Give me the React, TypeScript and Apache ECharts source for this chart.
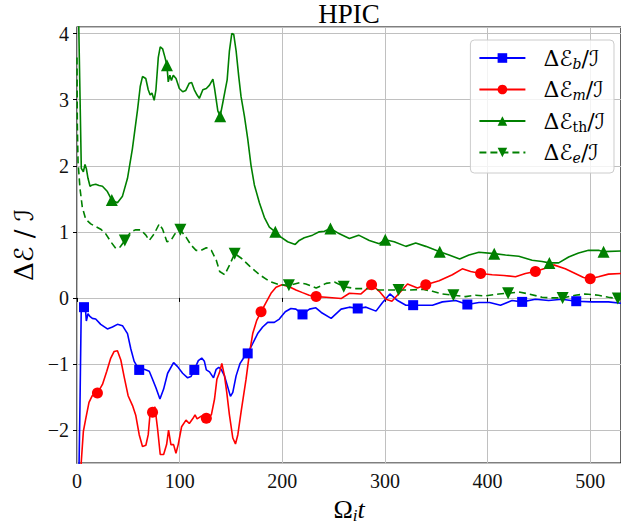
import React, { useEffect, useRef } from 'react';
import * as echarts from 'echarts';

const titleText = 'HPIC';
const xTickValues = [0, 100, 200, 300, 400, 500];

// ΔE_b / I  (blue, squares)
const curveB: number[][] = [
  [1.0, -3.5], [2.9, -1.63], [4.2, -0.09], [6.8, -0.14], [8, -0.12], [9.1, -0.35], [10.7, -0.24], [12.5, -0.28],
  [15, -0.31], [18.2, -0.32], [23.1, -0.4], [29.6, -0.47], [34.5, -0.44], [39.4, -0.4], [44.3, -0.42], [49.2, -0.54],
  [52.4, -0.77], [55.7, -0.96], [60.6, -1.09], [65.5, -1.08], [70.4, -1.11], [73.6, -1.23], [76.9, -1.36], [80.8, -1.53],
  [84.4, -1.38], [88.3, -1.14], [94.1, -0.98], [98, -1.04], [102.9, -1.14], [107.8, -1.21], [111, -1.19], [114.3, -1.09],
  [118.2, -0.95], [121.5, -0.91], [124.1, -0.96], [126, -1.09], [129.1, -1.12], [133, -1.21], [135.6, -1.08], [138.1, -1.05],
  [140.5, -1.08], [143.7, -1.18], [146.9, -1.35], [149.5, -1.49], [151.8, -1.43], [155, -1.18], [158.9, -0.99], [163.1, -0.89],
  [166.3, -0.84], [171.2, -0.69], [176, -0.54], [180.9, -0.44], [185.8, -0.37], [192.2, -0.37], [197.1, -0.32], [202.9, -0.21],
  [208.4, -0.16], [213.3, -0.17], [219.7, -0.25], [226.5, -0.17], [232.7, -0.15], [238, -0.22], [247.6, -0.31], [257.3, -0.17],
  [265.4, -0.14], [273.5, -0.16], [281.6, -0.14], [291.3, -0.2], [297.7, -0.07], [304.9, 0.06], [312.3, -0.04], [320.4, -0.11],
  [327.5, -0.11], [336.6, -0.11], [346.3, -0.11], [356, -0.06], [368.9, -0.04], [380.3, -0.1], [391.6, -0.07], [402, -0.07],
  [412.6, -0.11], [423.9, -0.04], [433.7, -0.06], [446.6, -0.02], [459.5, -0.04], [472.5, -0.02], [486.4, -0.05], [501.6, -0.06],
  [517.8, -0.06], [530, -0.08],
];
const marksB = [6.8, 60.6, 114.3, 166.3, 219.7, 273.5, 327.5, 380.3, 433.7, 486.4];

// ΔE_m / I  (red, circles)
const curveM: number[][] = [
  [3.2, -3.5], [3.9, -2.54], [6.2, -2.02], [8.5, -1.83], [11.7, -1.58], [14.9, -1.48], [19.9, -1.44], [24.8, -1.31],
  [29, -1.11], [32.9, -0.91], [36.2, -0.81], [39.4, -0.8], [42.7, -0.94], [45.9, -1.19], [49.8, -1.48], [54.1, -1.63],
  [57.3, -1.78], [60.6, -2.07], [63.8, -2.25], [67.1, -2.23], [69.4, -2.07], [71.3, -1.73], [73.6, -1.73], [75.9, -1.65],
  [78.5, -1.98], [81.1, -2.37], [84.4, -2.37], [87.3, -2.22], [89.2, -2.0], [91.5, -2.22], [94.1, -2.22], [96.4, -2.35],
  [98.6, -2.22], [101.9, -1.95], [106.2, -1.85], [109.4, -1.9], [112.7, -1.83], [115, -1.77], [117, -1.83], [120, -1.8],
  [123, -1.78], [126, -1.82], [130.9, -1.77], [134, -1.53], [136.3, -1.23], [138.8, -1.13], [141.1, -0.99], [143.7, -1.18],
  [145.9, -1.43], [148.5, -1.77], [151.8, -2.12], [154.4, -2.21], [156.7, -2.07], [159.9, -1.72], [164.7, -1.23], [168, -0.84],
  [171.2, -0.54], [175.1, -0.34], [179.3, -0.21], [184.1, -0.07], [189, 0.07], [193.9, 0.16], [199.7, 0.2], [206.8, 0.17],
  [213.3, 0.12], [219.7, 0.08], [226.2, 0.04], [233, 0.02], [242.7, 0.01], [257.3, -0.01], [265.4, 0.07], [276.7, 0.06],
  [287, 0.2], [294.5, 0.1], [301, -0.02], [306.8, -0.05], [313.9, 0.07], [322, 0.21], [331.7, 0.15], [339.8, 0.2],
  [352.8, 0.26], [365.7, 0.35], [375.4, 0.44], [383.5, 0.4], [393.2, 0.37], [404.5, 0.35], [415.9, 0.34], [427.2, 0.32],
  [436.9, 0.37], [446.6, 0.4], [456.3, 0.45], [464.4, 0.5], [475.7, 0.44], [485.4, 0.37], [493.5, 0.31], [500, 0.29],
  [508.1, 0.32], [517.8, 0.36], [530, 0.37],
];
const marksM = [19.9, 73.6, 126, 179.3, 233, 287, 339.8, 393.2, 446.6, 500];

// ΔE_th / I  (green, up triangles)
const curveTh: number[][] = [
  [0.5, 5.0], [1.5, 4.3], [3, 3.0], [4.2, 1.96], [6.2, 1.91], [7.8, 2.02], [9.2, 1.95], [10.7, 1.81],
  [12.7, 1.69], [15, 1.71], [18.2, 1.72], [21.5, 1.7], [24.8, 1.69], [29.6, 1.61], [33.9, 1.48], [39.4, 1.44],
  [44.3, 1.54], [49.2, 1.81], [54, 2.26], [59, 2.85], [61.6, 3.2], [63.8, 3.35], [67, 3.32], [69.4, 3.15],
  [71.3, 3.07], [73, 3.1], [75.2, 2.99], [76.9, 3.15], [79.2, 3.64], [81.1, 3.8], [83.4, 3.77], [85.7, 3.64],
  [87.6, 3.52], [88.9, 3.27], [90.5, 3.37], [92, 3.29], [93.8, 3.37], [96.5, 3.32], [99.7, 3.17], [103, 3.12],
  [106, 3.14], [109.4, 3.25], [111.7, 3.26], [114.3, 3.15], [117, 3.07], [119.2, 3.02], [122.6, 3.15], [126, 3.17],
  [129.1, 3.22], [132.4, 3.31], [134, 3.17], [137.2, 2.83], [139.5, 2.75], [142, 2.95], [144.7, 3.17], [146.3, 3.3],
  [148.5, 3.74], [150.8, 4.0], [152.7, 3.99], [155, 3.74], [157.6, 3.35], [159.8, 3.05], [163.1, 2.75], [166.3, 2.41],
  [169.5, 2.01], [172.8, 1.71], [177.7, 1.44], [182.5, 1.22], [187.4, 1.07], [193.2, 1.0], [198.7, 0.92], [205.2, 0.85],
  [212.6, 0.81], [216.5, 0.87], [221.4, 0.91], [229.5, 0.95], [236, 1.0], [241, 1.01], [246.9, 1.05], [255.7, 0.97],
  [265.4, 0.9], [274.4, 0.95], [284.8, 0.87], [294.5, 0.82], [300.3, 0.88], [309, 0.85], [320.4, 0.78], [330, 0.83],
  [339.8, 0.78], [353.4, 0.7], [362.5, 0.65], [372.8, 0.59], [381.9, 0.65], [391.6, 0.69], [406.5, 0.67], [417.5, 0.65],
  [430.4, 0.63], [443.4, 0.57], [453.1, 0.55], [460.2, 0.53], [469.3, 0.53], [479, 0.62], [488.7, 0.68], [498.4, 0.72],
  [508.1, 0.72], [513, 0.7], [530, 0.71],
];
const marksTh = [33.9, 87.6, 139.5, 193.2, 246.9, 300.3, 353.4, 406.5, 460.2, 513];

// ΔE_e / I  (green dashed, down triangles)
const curveE: number[][] = [
  [0, 3.64], [0.3, 2.65], [1, 2.06], [2.9, 1.66], [5.2, 1.37], [8.5, 1.19], [13.4, 1.12], [18.2, 1.08],
  [23.1, 1.04], [28, 0.97], [32.9, 0.85], [37.8, 0.75], [42, 0.77], [46.6, 0.87], [52.4, 1.0], [57.3, 1.03],
  [62.2, 1.03], [67.1, 0.95], [70.4, 0.87], [75.2, 0.97], [80.1, 1.12], [83.4, 1.04], [87.6, 0.85], [91.5, 0.87],
  [95.4, 0.97], [100.7, 1.03], [106.2, 0.92], [111.1, 0.8], [116, 0.72], [121, 0.72], [126, 0.76], [130.9, 0.72],
  [135.7, 0.57], [139, 0.4], [143.9, 0.35], [148.7, 0.5], [153.6, 0.67], [160.1, 0.6], [168.2, 0.48], [177.9, 0.35],
  [187.6, 0.25], [197.3, 0.2], [206.4, 0.19], [216.7, 0.23], [223, 0.21], [233, 0.15], [242.7, 0.22], [250.8, 0.24],
  [259.9, 0.17], [271.8, 0.14], [284.8, 0.14], [294.5, 0.12], [313.3, 0.12], [323.6, 0.12], [336.6, 0.13], [346.3, 0.1],
  [356, 0.06], [366.7, 0.04], [378.6, 0.02], [388.3, 0.04], [398, 0.03], [411, 0.06], [420, 0.07], [430.4, 0.09],
  [440.1, 0.06], [453.1, 0.01], [462.8, 0.0], [473.1, 0.0], [485.4, 0.04], [495.1, 0.06], [508.1, 0.04], [517.8, 0.01],
  [526.9, -0.01], [530, -0.02],
];
const marksE = [46.6, 100.7, 153.6, 206.4, 259.9, 313.3, 366.7, 420, 473.1, 526.9];

const seriesNames = ['ΔE_b/I', 'ΔE_m/I', 'ΔE_th/I', 'ΔE_e/I'];
const legendSubs = ['b', 'm', 'th', 'e'];

const TRI_DOWN = 'path://M0,0 L10,0 L5,9 Z';

function buildItems(curve: number[][], marks: number[], symbol: string) {
  return curve.map(([x, y]) => ({
    value: [x, y],
    symbol: marks.indexOf(x) >= 0 ? symbol : 'none',
  }));
}

const SERIF = "'Liberation Serif', 'DejaVu Serif', serif";
const MATH = "'DejaVu Serif', 'DejaVu Sans', serif";

export default function App() {
  const ref = useRef<HTMLDivElement>(null);
  useEffect(() => {
    if (!ref.current) return;
    const chart = echarts.init(ref.current, undefined, { renderer: 'svg' });
    const lineBase = {
      type: 'line' as const,
      showSymbol: true,
      showAllSymbol: true,
      smooth: false,
      clip: true,
      emphasis: { disabled: true },
    };
    const option: any = {
      animation: false,
      title: {
        text: titleText,
        left: 349,
        textAlign: 'center',
        top: 0,
        padding: 0,
        textStyle: { fontFamily: SERIF, fontSize: 27, fontWeight: 'normal', color: '#000' },
      },
      grid: {
        left: 77,
        right: -1,
        top: 27,
        bottom: 57,
        show: true,
        borderColor: '#000',
        borderWidth: 1.2,
        backgroundColor: 'transparent',
      },
      legend: {
        orient: 'vertical',
        right: 7,
        top: 40,
        align: 'left',
        itemWidth: 46,
        itemHeight: 12,
        itemGap: 8,
        padding: [7, 9, 8, 8],
        backgroundColor: 'rgba(255,255,255,0.8)',
        borderColor: '#cccccc',
        borderWidth: 1,
        borderRadius: 4,
        data: seriesNames,
        formatter: (name: string) => {
          const i = seriesNames.indexOf(name);
          const sub = legendSubs[i];
          const subStyle = sub === 'th' ? 'su' : 'si';
          return `{a|Δℰ}{${subStyle}|${sub}}{c|/ℐ}`;
        },
        textStyle: {
          rich: {
            a: { fontFamily: MATH, fontSize: 22, color: '#000', padding: [0, 0, 0, 13], lineHeight: 25 },
            c: { fontFamily: MATH, fontSize: 22, color: '#000', lineHeight: 25 },
            si: { fontFamily: MATH, fontSize: 14, fontStyle: 'italic', color: '#000', verticalAlign: 'bottom', lineHeight: 14 },
            su: { fontFamily: MATH, fontSize: 14, color: '#000', verticalAlign: 'bottom', lineHeight: 14 },
          },
        },
      },
      xAxis: {
        type: 'value',
        min: 0,
        max: 530,
        interval: 100,
        name: '{o|Ω}{i|i}{t|t}',
        nameLocation: 'middle',
        nameGap: 27,
        nameTextStyle: {
          rich: {
            o: { fontFamily: SERIF, fontSize: 26, color: '#000', lineHeight: 30 },
            i: { fontFamily: SERIF, fontSize: 17, fontStyle: 'italic', color: '#000', verticalAlign: 'bottom', lineHeight: 17 },
            t: { fontFamily: SERIF, fontSize: 26, fontStyle: 'italic', color: '#000', lineHeight: 30 },
          },
        },
        axisLine: { show: false },
        axisTick: { show: true, length: 4, lineStyle: { color: '#000', width: 1 } },
        axisLabel: {
          margin: 8,
          fontFamily: SERIF,
          fontSize: 20,
          color: '#111',
          showMaxLabel: false,
          formatter: (v: number) => (xTickValues.indexOf(v) >= 0 ? String(v) : ''),
        },
        splitLine: { show: true, lineStyle: { color: '#c0c0c0', width: 1 } },
      },
      yAxis: {
        type: 'value',
        min: -2.5,
        max: 4.1,
        splitNumber: 5,
        name: 'Δℰ / ℐ',
        nameLocation: 'middle',
        nameGap: 31,
        nameTextStyle: { fontFamily: MATH, fontSize: 26, color: '#000' },
        axisLine: { show: false },
        axisTick: { show: true, length: 4, lineStyle: { color: '#000', width: 1 } },
        axisLabel: {
          margin: 8,
          fontFamily: SERIF,
          fontSize: 20,
          color: '#111',
          showMinLabel: false,
          showMaxLabel: false,
          formatter: (v: number) => (Number.isInteger(v) ? String(v).replace('-', '−') : ''),
        },
        splitLine: { show: true, lineStyle: { color: '#c0c0c0', width: 1 } },
      },
      series: [
        {
          ...lineBase,
          name: seriesNames[0],
          data: buildItems(curveB, marksB, 'rect'),
          symbol: 'rect',
          symbolSize: 10,
          lineStyle: { color: '#0000ff', width: 1.6 },
          itemStyle: { color: '#0000ff' },
        },
        {
          ...lineBase,
          name: seriesNames[1],
          data: buildItems(curveM, marksM, 'circle'),
          symbol: 'circle',
          symbolSize: 11,
          lineStyle: { color: '#ff0000', width: 1.6 },
          itemStyle: { color: '#ff0000' },
        },
        {
          ...lineBase,
          name: seriesNames[2],
          data: buildItems(curveTh, marksTh, 'triangle'),
          symbol: 'triangle',
          symbolSize: 12,
          lineStyle: { color: '#008000', width: 1.6 },
          itemStyle: { color: '#008000' },
        },
        {
          ...lineBase,
          name: seriesNames[3],
          data: buildItems(curveE, marksE, TRI_DOWN),
          symbol: TRI_DOWN,
          symbolSize: 12,
          lineStyle: { color: '#008000', width: 1.6, type: [7, 4] },
          itemStyle: { color: '#008000' },
        },
      ],
    };
    chart.setOption(option);
    return () => chart.dispose();
  }, []);
  return (
    <div
      ref={ref}
      style={{ position: 'fixed', left: 0, top: 0, width: 621, height: 529, background: '#fff' }}
    />
  );
}
